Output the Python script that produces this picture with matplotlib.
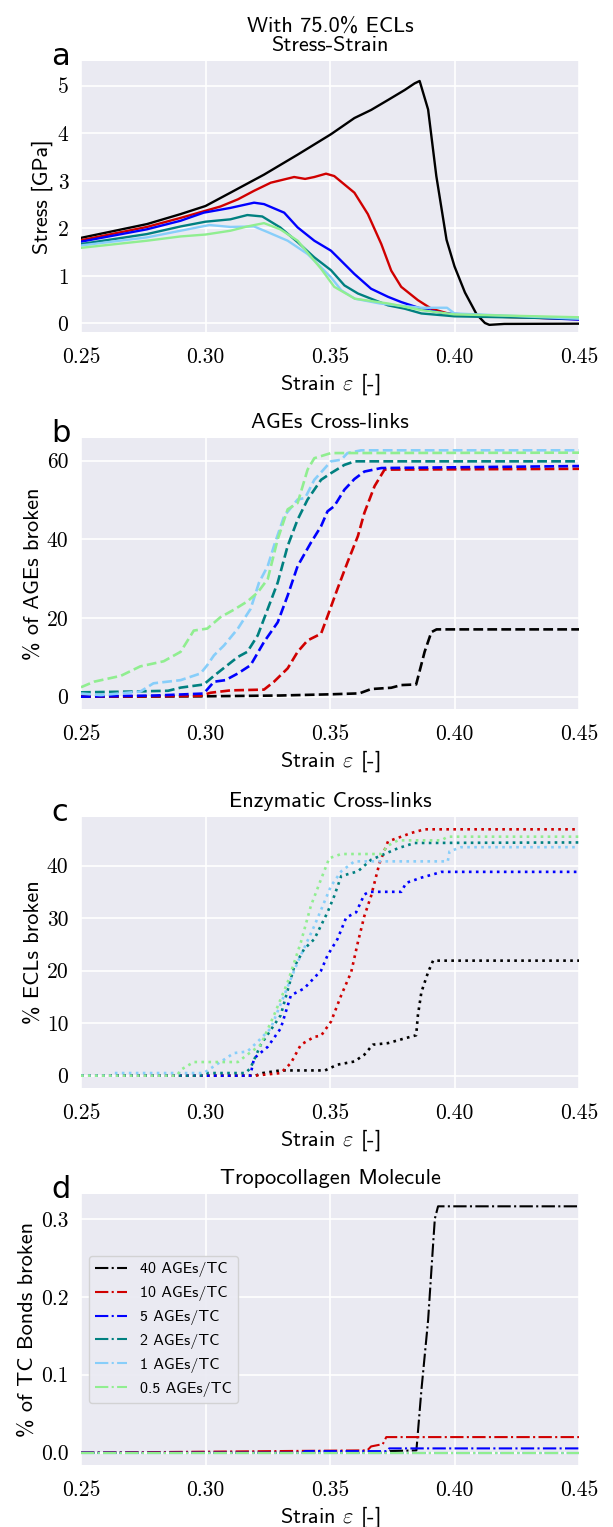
import matplotlib
matplotlib.use("Agg")
import matplotlib.pyplot as plt
from matplotlib.ticker import FuncFormatter, MultipleLocator

plt.rcParams['font.family'] = ['cmss10', 'DejaVu Sans']
plt.rcParams['mathtext.fontset'] = 'cm'
plt.rcParams['axes.unicode_minus'] = False

labels = ["40 AGEs/TC", "10 AGEs/TC", "5 AGEs/TC", "2 AGEs/TC", "1 AGEs/TC", "0.5 AGEs/TC"]
colors = ["#000000", "#d00000", "#0000ff", "#008080", "#87cefa", "#90ee90"]

# ---- Panel a: stress [GPa] ----
a_x = [
    [0.25, 0.2765, 0.29, 0.30, 0.31, 0.3235, 0.337, 0.3504, 0.3598, 0.3665, 0.3733, 0.38, 0.384, 0.386,
     0.3894, 0.3927, 0.3968, 0.400, 0.4042, 0.4089, 0.4122, 0.414, 0.42, 0.45],
    [0.25, 0.2765, 0.29, 0.30, 0.306, 0.313, 0.3195, 0.3262, 0.3356, 0.34, 0.3437, 0.3484, 0.3517, 0.3598,
     0.3652, 0.3706, 0.3746, 0.3786, 0.3853, 0.3907, 0.400, 0.45],
    [0.25, 0.2765, 0.29, 0.2993, 0.31, 0.3195, 0.3235, 0.3316, 0.337, 0.3437, 0.3504, 0.3531, 0.3598,
     0.3665, 0.3733, 0.3786, 0.3867, 0.396, 0.45],
    [0.25, 0.2765, 0.29, 0.30, 0.31, 0.3168, 0.3228, 0.33, 0.337, 0.3437, 0.3504, 0.3558, 0.3612, 0.3665,
     0.3733, 0.38, 0.3867, 0.40, 0.45],
    [0.25, 0.2765, 0.29, 0.3016, 0.31, 0.3195, 0.325, 0.333, 0.341, 0.3464, 0.3504, 0.3545, 0.36, 0.37,
     0.3867, 0.397, 0.40, 0.45],
    [0.25, 0.2765, 0.29, 0.30, 0.31, 0.3168, 0.3235, 0.33, 0.337, 0.3437, 0.3464, 0.3517, 0.36, 0.3733,
     0.3867, 0.40, 0.45],
]
a_y = [
    [1.80, 2.09, 2.30, 2.47, 2.75, 3.13, 3.55, 3.98, 4.32, 4.49, 4.70, 4.91, 5.05, 5.10,
     4.50, 3.10, 1.76, 1.20, 0.65, 0.19, 0.01, -0.03, -0.01, -0.005],
    [1.75, 2.03, 2.22, 2.37, 2.46, 2.61, 2.79, 2.96, 3.08, 3.04, 3.08, 3.15, 3.10, 2.75,
     2.30, 1.67, 1.11, 0.77, 0.49, 0.31, 0.17, 0.09],
    [1.72, 1.98, 2.16, 2.33, 2.43, 2.54, 2.51, 2.33, 2.02, 1.74, 1.53, 1.39, 1.04,
     0.73, 0.56, 0.45, 0.31, 0.21, 0.08],
    [1.67, 1.88, 2.04, 2.14, 2.19, 2.28, 2.25, 2.02, 1.71, 1.39, 1.12, 0.80, 0.63, 0.52,
     0.38, 0.31, 0.21, 0.15, 0.10],
    [1.64, 1.81, 1.95, 2.07, 2.03, 2.04, 1.92, 1.74, 1.46, 1.18, 0.97, 0.70, 0.52, 0.42,
     0.33, 0.33, 0.21, 0.10],
    [1.59, 1.74, 1.83, 1.87, 1.95, 2.04, 2.11, 1.98, 1.74, 1.32, 1.15, 0.77, 0.52, 0.42,
     0.28, 0.19, 0.13],
]

# ---- Panel b: % of AGEs broken ----
b_x = [
    [0.25, 0.30, 0.33, 0.35, 0.3618, 0.3665, 0.3746, 0.3786, 0.3846, 0.388, 0.3907, 0.3928, 0.45],
    [0.25, 0.298, 0.302, 0.31, 0.3235, 0.3275, 0.333, 0.337, 0.341, 0.3464, 0.3491, 0.353, 0.357, 0.3612,
     0.3638, 0.3679, 0.3719, 0.45],
    [0.25, 0.28, 0.2993, 0.3034, 0.308, 0.313, 0.3181, 0.3235, 0.329, 0.333, 0.337, 0.3423, 0.3464, 0.349,
     0.3517, 0.3558, 0.3598, 0.3638, 0.3706, 0.45],
    [0.25, 0.27, 0.285, 0.29, 0.2993, 0.3034, 0.3088, 0.313, 0.3168, 0.321, 0.325, 0.329, 0.333, 0.337,
     0.341, 0.3464, 0.3504, 0.3558, 0.36, 0.45],
    [0.25, 0.258, 0.2738, 0.2791, 0.29, 0.298, 0.3007, 0.3034, 0.3074, 0.313, 0.3181, 0.3215, 0.325,
     0.3275, 0.3316, 0.337, 0.340, 0.3437, 0.3504, 0.3545, 0.357, 0.3625, 0.45],
    [0.25, 0.2552, 0.266, 0.2738, 0.2832, 0.29, 0.2953, 0.3007, 0.306, 0.3114, 0.3168, 0.321, 0.325,
     0.329, 0.333, 0.337, 0.341, 0.3437, 0.3504, 0.45],
]
b_y = [
    [0.0, 0.1, 0.3, 0.6, 0.84, 1.94, 2.27, 2.95, 3.11, 11.4, 16.4, 17.1, 17.1],
    [0.0, 0.2, 1.0, 1.6, 1.8, 3.8, 7.2, 11.4, 14.3, 16.0, 20.6, 27.4, 34.1, 40.8, 46.7, 53.5, 57.7, 57.9],
    [0.0, 0.3, 0.8, 3.8, 4.2, 5.9, 8.0, 13.9, 18.9, 25.7, 33.2, 39.1, 43.3, 47.1, 48.4, 52.6, 55.3,
     57.2, 58.1, 58.6],
    [1.1, 1.3, 1.5, 2.3, 3.1, 5.3, 8.0, 10.1, 11.4, 15.6, 22.3, 29.0, 38.3, 45.0, 50.1, 55.1, 56.8,
     58.9, 59.8, 59.8],
    [0.8, 0.4, 1.3, 3.4, 4.2, 5.9, 8.0, 10.5, 13.0, 17.3, 22.3, 29.0, 33.2, 38.3, 45.9, 50.1, 50.5,
     55.1, 59.8, 60.2, 61.9, 62.6, 62.6],
    [2.4, 3.8, 5.3, 7.7, 9.0, 11.4, 16.8, 17.3, 20.2, 22.1, 24.2, 26.5, 29.9, 40.0, 47.6, 49.2, 57.7,
     60.6, 61.9, 62.0],
]

# ---- Panel c: % ECLs broken ----
c_x = [
    [0.25, 0.32, 0.323, 0.33, 0.348, 0.353, 0.3598, 0.3638, 0.3672, 0.3733, 0.38, 0.3846, 0.3853, 0.3867,
     0.3894, 0.3914, 0.45],
    [0.25, 0.3195, 0.3302, 0.3343, 0.3383, 0.3437, 0.3464, 0.3504, 0.3545, 0.3585, 0.3612, 0.3638,
     0.3665, 0.3699, 0.3733, 0.3786, 0.3826, 0.388, 0.45],
    [0.25, 0.318, 0.3195, 0.325, 0.3302, 0.3343, 0.3396, 0.3464, 0.349, 0.353, 0.3565, 0.3605, 0.3638,
     0.3658, 0.3786, 0.3806, 0.3867, 0.3927, 0.3947, 0.45],
    [0.25, 0.298, 0.30, 0.316, 0.318, 0.3222, 0.3302, 0.3356, 0.3396, 0.3437, 0.349, 0.3517, 0.3545,
     0.3612, 0.3665, 0.3773, 0.384, 0.45],
    [0.25, 0.262, 0.263, 0.2993, 0.3034, 0.3114, 0.3168, 0.321, 0.3262, 0.3316, 0.337, 0.3437, 0.3504,
     0.3545, 0.3598, 0.3973, 0.398, 0.4027, 0.45],
    [0.25, 0.2886, 0.29, 0.2953, 0.313, 0.3168, 0.3222, 0.3275, 0.333, 0.3383, 0.3423, 0.3464, 0.3497,
     0.3545, 0.3706, 0.3733, 0.3773, 0.3947, 0.3973, 0.45],
]
c_y = [
    [0.0, 0.0, 0.5, 1.0, 1.0, 2.1, 2.7, 4.0, 5.9, 6.2, 7.1, 7.7, 11.5, 15.9, 19.7, 21.9, 21.9],
    [0.0, 0.0, 0.5, 2.4, 5.9, 7.4, 7.6, 10.3, 15.3, 19.7, 25.4, 30.4, 34.2, 40.5, 44.6, 45.5, 46.2,
     46.9, 46.9],
    [0.0, 0.0, 3.3, 5.5, 9.0, 15.3, 16.6, 20.0, 22.9, 26.0, 30.1, 31.1, 34.5, 35.0, 35.0, 36.7, 37.7,
     38.5, 38.8, 38.8],
    [0.0, 0.0, 0.5, 0.5, 1.4, 5.9, 11.5, 20.7, 24.1, 26.0, 31.1, 34.2, 38.0, 38.9, 41.1, 43.3, 44.3, 44.4],
    [0.0, 0.0, 0.5, 0.5, 1.8, 4.3, 4.6, 6.5, 9.0, 15.3, 21.6, 28.5, 36.1, 38.9, 40.8, 40.8, 42.7,
     43.5, 43.5],
    [0.0, 0.0, 1.1, 2.6, 2.6, 4.0, 5.9, 11.5, 17.8, 25.4, 32.3, 37.4, 41.4, 42.2, 42.2, 43.8, 44.8,
     44.8, 45.5, 45.5],
]

# ---- Panel d: % of TC bonds broken ----
d_x = [
    [0.25, 0.373, 0.374, 0.3847, 0.3867, 0.3894, 0.3914, 0.3921, 0.3934, 0.45],
    [0.25, 0.365, 0.3665, 0.3712, 0.3726, 0.45],
    [0.25, 0.339, 0.34, 0.373, 0.3738, 0.45],
    [0.25, 0.45],
    [0.25, 0.45],
    [0.25, 0.45],
]
d_y = [
    [0.0, 0.0, 0.002, 0.003, 0.08, 0.17, 0.267, 0.30, 0.316, 0.316],
    [0.0, 0.003, 0.008, 0.011, 0.020, 0.020],
    [0.0, 0.0, 0.002, 0.002, 0.0055, 0.0055],
    [0.0, 0.0],
    [0.0, 0.0],
    [0.0, 0.0],
]

panels = [
    ("a", "With 75.0% ECLs\nStress-Strain", "Stress [GPa]", a_x, a_y, "-", 1.7, 1.0),
    ("b", "AGEs Cross-links", "% of AGEs broken", b_x, b_y, "--", 1.9, 20.0),
    ("c", "Enzymatic Cross-links", "% ECLs broken", c_x, c_y, ":", 1.9, 10.0),
    ("d", "Tropocollagen Molecule", "% of TC Bonds broken", d_x, d_y, "-.", 1.5, 0.1),
]

W, H = 613, 1527
fig = plt.figure(figsize=(W / 100, H / 100), dpi=100)
tops = [61, 438, 817, 1194]
ax_h = 271
left, right = 81, 579

tickfmt = {
    "a": lambda v, p: f"{v:.0f}",
    "b": lambda v, p: f"{v:.0f}",
    "c": lambda v, p: f"{v:.0f}",
    "d": lambda v, p: f"{v:.1f}",
}

for (letter, title, ylabel, xs, ys, ls, lw, step), top in zip(panels, tops):
    ax = fig.add_axes([left / W, 1 - (top + ax_h) / H, (right - left) / W, ax_h / H])
    ax.set_facecolor("#EAEAF2")
    for s in ax.spines.values():
        s.set_visible(False)
    ax.grid(True, color="white", linewidth=1.2)
    ax.set_axisbelow(True)
    for x, y, c, lab in zip(xs, ys, colors, labels):
        ax.plot(x, y, linestyle=ls, color=c, linewidth=lw, label=lab)
    ax.set_xlim(0.25, 0.45)
    ax.xaxis.set_major_locator(MultipleLocator(0.05))
    ax.yaxis.set_major_locator(MultipleLocator(step))
    if letter == "a":
        ax.set_ylim(-0.18, 5.52)
    ax.xaxis.set_major_formatter(FuncFormatter(lambda v, p: f"{v:.2f}"))
    ax.yaxis.set_major_formatter(FuncFormatter(tickfmt[letter]))
    ax.tick_params(axis="both", length=0, labelsize=15.5)
    ax.tick_params(axis="x", pad=11)
    ax.tick_params(axis="y", pad=9)
    for t in ax.get_xticklabels() + ax.get_yticklabels():
        t.set_fontfamily("cmr10")
    ax.set_title(title, fontsize=16, pad=7, linespacing=1.05)
    ax.set_xlabel(r"Strain $\varepsilon$ [-]", fontsize=16, labelpad=3)
    ax.set_ylabel(ylabel, fontsize=16, labelpad=3)
    ax.text(-0.06, 0.985, letter, transform=ax.transAxes, fontsize=22,
            family="DejaVu Sans", ha="left", va="baseline")
    if letter == "d":
        leg = ax.legend(loc="center left", fontsize=11.5, frameon=True, fancybox=True,
                        facecolor="#EAEAF2", edgecolor="#d0d0d0", framealpha=0.9,
                        handlelength=2.0, labelspacing=0.55)

fig.savefig("out.png", dpi=100)
